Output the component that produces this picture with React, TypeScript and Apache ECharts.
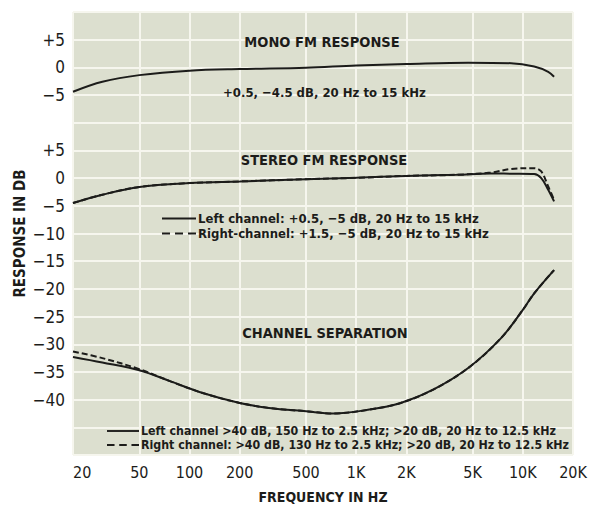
import React, { useEffect, useRef } from "react";
import * as echarts from "echarts";

// Frequency ticks (Hz)
const FREQ_TICKS = [20, 50, 100, 200, 500, 1000, 2000, 5000, 10000, 20000];
// Y labels (global positions; mono section is shifted up by MONO_OFFSET)
const MONO_OFFSET = 20;
const Y_LABEL_VALUES = [-40, -35, -30, -25, -20, -15, -10, -5, 0, 5, 15, 20, 25];

// Mono FM response
const FREQ_MONO = [20, 30, 50, 100, 200, 500, 1000, 2000, 4700, 8500, 11700, 14200, 15400];
const MONO_DB = [-4.4, -2.6, -1.4, -0.6, -0.3, -0.05, 0.35, 0.6, 0.85, 0.75, 0.15, -0.8, -1.7];

// Stereo FM response
const FREQ_STEREO = [20, 30, 50, 100, 200, 500, 1000, 2000, 4000, 6400, 8500, 11700, 12900, 14200, 15400];
const STEREO_LEFT = [-4.5, -3.0, -1.6, -0.9, -0.6, -0.2, 0.05, 0.4, 0.6, 0.85, 0.8, 0.75, 0.0, -2.1, -4.2];
const STEREO_RIGHT = [-4.5, -3.0, -1.6, -0.9, -0.6, -0.2, 0.05, 0.4, 0.6, 1.0, 1.65, 1.8, 1.2, -1.5, -3.9];

// Channel separation
const FREQ_SEP = [20, 30, 50, 77, 120, 200, 300, 500, 730, 1200, 1850, 2900, 4700, 7400, 10000, 11700, 15400];
const SEP_LEFT = [-32.3, -33.3, -34.7, -36.7, -38.8, -40.6, -41.5, -42.1, -42.5, -41.8, -40.6, -38.2, -34.3, -28.9, -23.8, -20.8, -16.6];
const SEP_RIGHT = [-31.3, -32.5, -34.5, -36.7, -38.8, -40.6, -41.5, -42.1, -42.5, -41.8, -40.6, -38.2, -34.3, -28.9, -23.8, -20.8, -16.6];

const STEREO_L_NAME = "Left channel: +0.5, \u22125 dB, 20 Hz to 15 kHz";
const STEREO_R_NAME = "Right-channel: +1.5, \u22125 dB, 20 Hz to 15 kHz";
const SEP_L_NAME = "Left channel >40 dB, 150 Hz to 2.5 kHz; >20 dB, 20 Hz to 12.5 kHz";
const SEP_R_NAME = "Right channel: >40 dB, 130 Hz to 2.5 kHz; >20 dB, 20 Hz to 12.5 kHz";

const FONT = "'DejaVu Sans Condensed', 'Liberation Sans Narrow', sans-serif";
const INK = "#1c1c1a";

const SOLID_ICON = "path://M0,0H34V2H0Z";
const DASH_ICON = "path://M0,0H8V2H0Z M13,0H21V2H13Z M26,0H34V2H26Z";

const toPts = (fs: number[], vs: number[], off = 0) =>
  fs.map((f, i) => [Math.log10(f), vs[i] + off]);

const fmtFreq = (v: number) => {
  const f = Math.round(Math.pow(10, v));
  return f >= 1000 ? f / 1000 + "K" : String(f);
};

const fmtDb = (v: number) => {
  const d = v >= 15 ? v - MONO_OFFSET : v;
  if (d > 0) return "+" + d;
  if (d < 0) return "\u2212" + Math.abs(d);
  return "0";
};

export default function App() {
  const ref = useRef<HTMLDivElement>(null);
  useEffect(() => {
    if (!ref.current) return;
    const chart = echarts.init(ref.current, undefined, { renderer: "svg" });
    const tickLogs = FREQ_TICKS.map((f) => Math.log10(f));
    const line = (name: string, data: number[][], dashed = false) => ({
      name,
      type: "line",
      data,
      smooth: 0.35,
      symbol: "none",
      z: 5,
      lineStyle: { color: INK, width: 2, type: dashed ? [6, 3] : "solid" },
      itemStyle: { color: INK },
    });
    const titleText = (text: string, x: number, y: number) => ({
      type: "text",
      x,
      y,
      z: 100,
      style: {
        text,
        fill: INK,
        font: `bold 14.5px ${FONT}`,
        textAlign: "center",
        textVerticalAlign: "middle",
      },
    });
    const legendText = { color: INK, fontFamily: FONT, fontWeight: "bold" };
    chart.setOption({
      animation: false,
      backgroundColor: "#ffffff",
      grid: {
        left: 73,
        right: 18,
        top: 12,
        bottom: 51,
        show: true,
        backgroundColor: "#dcdfcf",
        borderWidth: 0,
        containLabel: false,
        outerBoundsMode: "none",
      },
      xAxis: {
        type: "value",
        min: Math.log10(20),
        max: Math.log10(20000),
        name: "FREQUENCY IN HZ",
        nameLocation: "middle",
        nameGap: 35,
        nameMoveOverlap: false,
        nameTextStyle: { color: INK, fontFamily: FONT, fontSize: 14, fontWeight: "bold" },
        axisLine: { show: false },
        axisTick: { show: false, customValues: tickLogs },
        axisLabel: {
          customValues: tickLogs,
          formatter: fmtFreq,
          color: INK,
          fontFamily: FONT,
          fontSize: 16,
          margin: 9,
          alignMinLabel: "left",
        },
        splitLine: { show: true, lineStyle: { color: "#f6f6ee", width: 2 } },
      },
      yAxis: {
        type: "value",
        min: -50,
        max: 30,
        interval: 5,
        name: "RESPONSE IN DB",
        nameLocation: "middle",
        nameGap: 46,
        nameRotate: 90,
        nameMoveOverlap: false,
        nameTextStyle: { color: INK, fontFamily: FONT, fontSize: 15, fontWeight: "bold" },
        axisLine: { show: false },
        axisTick: { show: false },
        axisLabel: {
          customValues: Y_LABEL_VALUES,
          formatter: fmtDb,
          color: INK,
          fontFamily: FONT,
          fontSize: 17,
          margin: 8,
        },
        splitLine: { show: true, lineStyle: { color: "#f6f6ee", width: 2 } },
      },
      legend: [
        {
          data: [
            { name: STEREO_L_NAME, icon: SOLID_ICON },
            { name: STEREO_R_NAME, icon: DASH_ICON },
          ],
          orient: "vertical",
          left: 157,
          top: 207,
          itemWidth: 34,
          itemHeight: 2,
          itemGap: 2,
          z: 100,
          textStyle: { ...legendText, fontSize: 13, padding: [0, 0, 0, -3] },
        },
        {
          data: [
            { name: SEP_L_NAME, icon: SOLID_ICON },
            { name: SEP_R_NAME, icon: DASH_ICON },
          ],
          orient: "vertical",
          left: 102,
          top: 420,
          itemWidth: 32,
          itemHeight: 2,
          itemGap: 2,
          z: 100,
          textStyle: { ...legendText, fontSize: 12.3, padding: [0, 0, 0, -3] },
        },
      ],
      graphic: [
        titleText("MONO FM RESPONSE", 322, 42),
        {
          type: "text",
          x: 223,
          y: 92,
          z: 100,
          style: {
            text: "+0.5, \u22124.5 dB, 20 Hz to 15 kHz",
            fill: INK,
            font: `bold 13px ${FONT}`,
            textVerticalAlign: "middle",
          },
        },
        titleText("STEREO FM RESPONSE", 324, 160),
        titleText("CHANNEL SEPARATION", 325, 333),
      ],
      series: [
        line("Mono", toPts(FREQ_MONO, MONO_DB, MONO_OFFSET)),
        line(STEREO_L_NAME, toPts(FREQ_STEREO, STEREO_LEFT)),
        line(STEREO_R_NAME, toPts(FREQ_STEREO, STEREO_RIGHT), true),
        line(SEP_L_NAME, toPts(FREQ_SEP, SEP_LEFT)),
        line(SEP_R_NAME, toPts(FREQ_SEP, SEP_RIGHT), true),
      ],
    });
    return () => chart.dispose();
  }, []);
  return <div ref={ref} style={{ width: 591, height: 506, position: "absolute", left: 0, top: 0 }} />;
}
